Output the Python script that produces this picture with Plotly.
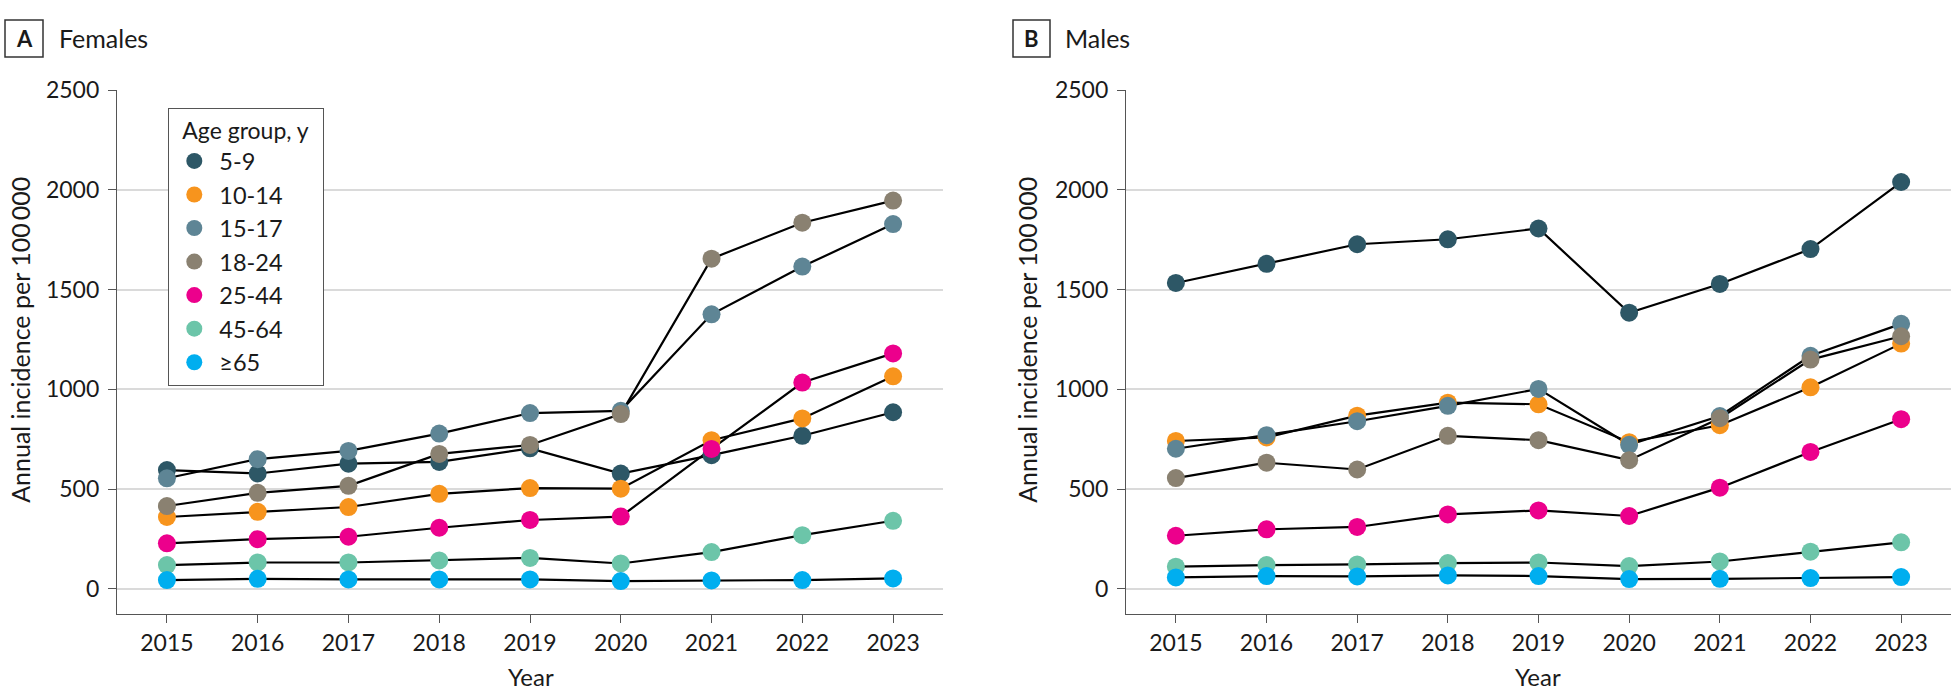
import plotly.graph_objects as go

W, H = 1957, 693

years = [2015, 2016, 2017, 2018, 2019, 2020, 2021, 2022, 2023]
age_groups = ["5-9", "10-14", "15-17", "18-24", "25-44", "45-64", "≥65"]
colors = ["#2D5766", "#F7941D", "#5E8595", "#8A8171", "#EC008C", "#6CC5A9", "#00AEEF"]

# Females (annual incidence per 100 000)
f_5_9 = [595, 578, 627, 636, 704, 578, 670, 767, 885]
f_10_14 = [360, 386, 410, 476, 505, 502, 745, 854, 1065]
f_15_17 = [554, 650, 691, 778, 881, 892, 1376, 1615, 1828]
f_18_24 = [415, 481, 516, 676, 721, 876, 1655, 1835, 1946]
f_25_44 = [228, 249, 261, 306, 345, 362, 701, 1034, 1180]
f_45_64 = [119, 132, 132, 142, 155, 127, 184, 269, 341]
f_65 = [44, 50, 47, 47, 47, 39, 42, 44, 52]

# Males
m_5_9 = [1533, 1629, 1727, 1752, 1806, 1384, 1528, 1703, 2039]
m_10_14 = [741, 759, 868, 933, 925, 735, 820, 1010, 1229]
m_15_17 = [702, 770, 840, 917, 1002, 722, 866, 1168, 1328]
m_18_24 = [555, 632, 598, 767, 745, 645, 855, 1149, 1266]
m_25_44 = [266, 298, 310, 373, 393, 365, 507, 686, 850]
m_45_64 = [111, 119, 122, 129, 132, 114, 137, 186, 233]
m_65 = [57, 64, 62, 67, 64, 49, 50, 54, 59]

y_ticks = [0, 500, 1000, 1500, 2000, 2500]

females = [f_5_9, f_10_14, f_15_17, f_18_24, f_25_44, f_45_64, f_65]
males = [m_5_9, m_10_14, m_15_17, m_18_24, m_25_44, m_45_64, m_65]

FONT = "Lato, 'Liberation Sans', sans-serif"

fig = go.Figure()

for panel, (data, xa, ya) in enumerate([(females, "x", "y"), (males, "x2", "y2")]):
    # lines first
    for name, vals in zip(age_groups, data):
        fig.add_trace(go.Scatter(x=years, y=vals, mode="lines", xaxis=xa, yaxis=ya,
                                 line=dict(color="black", width=2.2), showlegend=False,
                                 hoverinfo="skip"))
    # markers on top
    for name, vals, c in zip(age_groups, data, colors):
        fig.add_trace(go.Scatter(x=years, y=vals, mode="markers", xaxis=xa, yaxis=ya, name=name,
                                 marker=dict(color=c, size=18, line=dict(width=0)),
                                 showlegend=(panel == 0), legendgroup=name, cliponaxis=False))

def px_x(p):
    return p / W

def px_y(p):
    return 1 - p / H

x_range = [2014.45, 2023.55]
y_range = [-125, 2500]
ydom = [px_y(612), px_y(76.7)]

axis_common = dict(showline=True, linecolor="#555555", linewidth=1.3, ticks="outside",
                   ticklen=8, tickcolor="#555555", tickwidth=1.3,
                   tickfont=dict(family=FONT, size=23, color="#1a1a1a"))

NB = "\u00a0"

fig.update_layout(
    width=W, height=H, autosize=False,
    margin=dict(l=0, r=0, t=0, b=0),
    paper_bgcolor="white", plot_bgcolor="white",
    font=dict(family=FONT, color="#1a1a1a"),
    xaxis=dict(domain=[px_x(117), px_x(943)], range=x_range, tickvals=years,
               showgrid=False, zeroline=False, anchor="y", **axis_common),
    yaxis=dict(domain=ydom, range=y_range, tickvals=y_ticks, showgrid=True,
               gridcolor="#DADADA", gridwidth=1.6, zeroline=False, anchor="x",
               ticklabelstandoff=4, **axis_common),
    xaxis2=dict(domain=[px_x(1126), px_x(1951)], range=x_range, tickvals=years,
                showgrid=False, zeroline=False, anchor="y2", **axis_common),
    yaxis2=dict(domain=ydom, range=y_range, tickvals=y_ticks, showgrid=True,
                gridcolor="#DADADA", gridwidth=1.6, zeroline=False, anchor="x2",
                ticklabelstandoff=4, **axis_common),
    legend=dict(x=px_x(168), y=px_y(95), xanchor="left", yanchor="top",
                bordercolor="#555555", borderwidth=1.3, bgcolor="white",
                font=dict(family=FONT, size=23.5, color="#1a1a1a"),
                title=dict(text=NB * 2 + "Age group, y" + NB * 2,
                           font=dict(family=FONT, size=23)),
                tracegroupgap=0, itemwidth=40),
    showlegend=True,
)

# Panel headers
for x0, x1, letter, label, lx in [(5, 43, "A", "Females", 57), (1013, 1050, "B", "Males", 1063)]:
    fig.add_shape(type="rect", xref="paper", yref="paper",
                  x0=px_x(x0), x1=px_x(x1), y0=px_y(43), y1=px_y(5),
                  line=dict(color="#333333", width=1.5), fillcolor="white")
    fig.add_annotation(xref="paper", yref="paper", x=px_x((x0 + x1) / 2), y=px_y(24),
                       text="<b>%s</b>" % letter, showarrow=False, xanchor="center", yanchor="middle",
                       font=dict(family=FONT, size=22, color="#1a1a1a"))
    fig.add_annotation(xref="paper", yref="paper", x=px_x(lx), y=px_y(24),
                       text=label, showarrow=False, xanchor="left", yanchor="middle",
                       font=dict(family=FONT, size=25, color="#1a1a1a"))

# Axis titles
for ax_x, yr_x in [(20, 531), (1027, 1538)]:
    fig.add_annotation(xref="paper", yref="paper", x=px_x(ax_x), y=px_y(332),
                       text="Annual incidence per 100\u2009000", textangle=-90, showarrow=False,
                       xanchor="center", yanchor="middle",
                       font=dict(family=FONT, size=25, color="#1a1a1a"))
    fig.add_annotation(xref="paper", yref="paper", x=px_x(yr_x), y=px_y(676),
                       text="Year", showarrow=False, xanchor="center", yanchor="middle",
                       font=dict(family=FONT, size=24, color="#1a1a1a"))

fig.write_html("out.html",
               config={"displayModeBar": False},
               post_script="document.documentElement.style.margin='0';"
                           "document.body.style.margin='0';"
                           "document.body.style.overflow='hidden';")
